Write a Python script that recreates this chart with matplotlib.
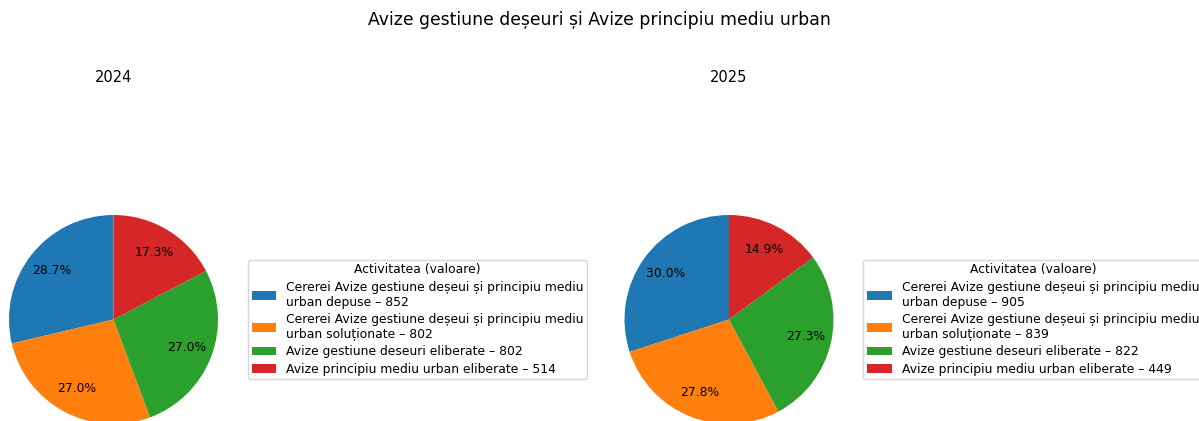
import matplotlib
matplotlib.use("Agg")
import matplotlib.pyplot as plt

# Data
years = ["2024", "2025"]
categories = [
    "Cererei Avize gestiune deșeui și principiu mediu\nurban depuse",
    "Cererei Avize gestiune deșeui și principiu mediu\nurban soluționate",
    "Avize gestiune deseuri eliberate",
    "Avize principiu mediu urban eliberate",
]
values_2024 = [852, 802, 802, 514]
values_2025 = [905, 839, 822, 449]
colors = ["#1f77b4", "#ff7f0e", "#2ca02c", "#d62728"]

W, H = 1199, 421
fig = plt.figure(figsize=(W / 100, H / 100), dpi=100)
fig.suptitle("Avize gestiune deșeuri și Avize principiu mediu urban", fontsize=12.4, y=1 - 20 / H, va="center")

# pie centres in pixels (from top-left), radius in pixels
centres = [(113.5, 319.5), (729, 319.5)]
radius_px = 104.5
half = radius_px * 1.25

for year, vals, (cx, cy) in zip(years, [values_2024, values_2025], centres):
    ax = fig.add_axes([(cx - half) / W, (H - cy - half) / H, 2 * half / W, 2 * half / H])
    wedges, _, _ = ax.pie(vals, colors=colors, autopct="%1.1f%%", startangle=90,
                          pctdistance=0.75, textprops={"fontsize": 8.9})
    labels = [f"{c} – {v}" for c, v in zip(categories, vals)]
    ax.legend(wedges, labels, title="Activitatea (valoare)", fontsize=8.9, title_fontsize=8.9,
              loc="center left", bbox_to_anchor=(1, 0.5), borderaxespad=0.3,
              labelspacing=0.35, borderpad=0.3)
    fig.text(cx / W, 1 - 78 / H, year, ha="center", va="center", fontsize=10.5)

fig.savefig("out.png", dpi=100)
